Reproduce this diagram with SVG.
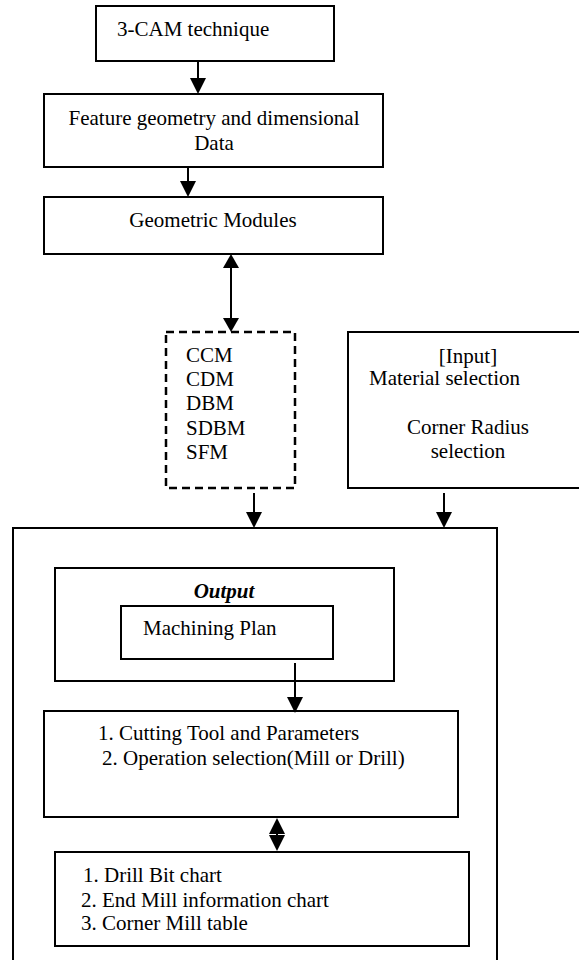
<svg xmlns="http://www.w3.org/2000/svg" width="579" height="960" viewBox="0 0 579 960">
  <style>
    .box { fill: #fff; stroke: #000; stroke-width: 2; }
    .dash { fill: #fff; stroke: #000; stroke-width: 2.5; stroke-dasharray: 8 5; }
    .wire { stroke: #000; stroke-width: 2; fill: none; }
    text { font-family: "Liberation Serif", "Times New Roman", serif; font-size: 21px; fill: #000; }
    .mid { text-anchor: middle; }
    .bi { font-weight: bold; font-style: italic; }
  </style>
  <defs>
    <marker id="head" markerUnits="userSpaceOnUse" viewBox="0 0 16 16" refX="14" refY="8" markerWidth="16" markerHeight="16" orient="auto-start-reverse">
      <path d="M0,0 L16,8 L0,16 z" fill="#000"/>
    </marker>
    <marker id="headS" markerUnits="userSpaceOnUse" viewBox="0 0 14 16" refX="12" refY="8" markerWidth="14" markerHeight="16" orient="auto-start-reverse">
      <path d="M0,0 L14,8 L0,16 z" fill="#000"/>
    </marker>
  </defs>

  <rect width="579" height="960" fill="#fff"/>

  <!-- outer container (open at the bottom) -->
  <g id="container">
    <rect class="box" x="13" y="528" width="484" height="450"/>
  </g>

  <g id="cam">
    <rect class="box" x="96" y="6" width="238" height="55"/>
    <text x="117" y="36">3-CAM technique</text>
  </g>

  <g id="feature">
    <rect class="box" x="44" y="94" width="339" height="73"/>
    <text class="mid" x="214" y="125">Feature geometry and dimensional</text>
    <text class="mid" x="214" y="150">Data</text>
  </g>

  <g id="geometric">
    <rect class="box" x="44" y="197" width="339" height="57"/>
    <text class="mid" x="213" y="227">Geometric Modules</text>
  </g>

  <g id="modules">
    <rect class="dash" x="166" y="332" width="129" height="156"/>
    <text x="186" y="362">CCM</text>
    <text x="186" y="386">CDM</text>
    <text x="186" y="410">DBM</text>
    <text x="186" y="435">SDBM</text>
    <text x="186" y="459">SFM</text>
  </g>

  <g id="input">
    <rect class="box" x="348" y="332" width="232" height="156"/>
    <text class="mid" x="468" y="363">[Input]</text>
    <text x="369" y="385">Material selection</text>
    <text class="mid" x="468" y="434">Corner Radius</text>
    <text class="mid" x="468" y="458">selection</text>
  </g>

  <g id="output">
    <rect class="box" x="55" y="568" width="339" height="113"/>
    <text class="mid bi" x="224" y="598">Output</text>
  </g>

  <g id="plan">
    <rect class="box" x="121" y="606" width="212" height="53"/>
    <text x="143" y="635">Machining Plan</text>
  </g>

  <g id="cutting">
    <rect class="box" x="44" y="711" width="414" height="106"/>
    <text x="98" y="740">1. Cutting Tool and Parameters</text>
    <text x="102" y="765">2. Operation selection(Mill or Drill)</text>
  </g>

  <g id="charts">
    <rect class="box" x="55" y="852" width="414" height="94"/>
    <text x="83" y="882">1. Drill Bit chart</text>
    <text x="81" y="907">2. End Mill information chart</text>
    <text x="81" y="930">3. Corner Mill table</text>
  </g>

  <g id="connectors">
    <line class="wire" x1="198" y1="61" x2="198" y2="92" marker-end="url(#head)"/>
    <line class="wire" x1="188" y1="167" x2="188" y2="195" marker-end="url(#head)"/>
    <line class="wire" x1="231" y1="256" x2="231" y2="330" marker-start="url(#headS)" marker-end="url(#headS)"/>
    <line class="wire" x1="254" y1="493" x2="254" y2="526" marker-end="url(#head)"/>
    <line class="wire" x1="444" y1="493" x2="444" y2="526" marker-end="url(#head)"/>
    <line class="wire" x1="295" y1="663" x2="295" y2="711" marker-end="url(#head)"/>
    <line class="wire" x1="277" y1="820" x2="277" y2="849" marker-start="url(#head)" marker-end="url(#head)"/>
  </g>
</svg>
